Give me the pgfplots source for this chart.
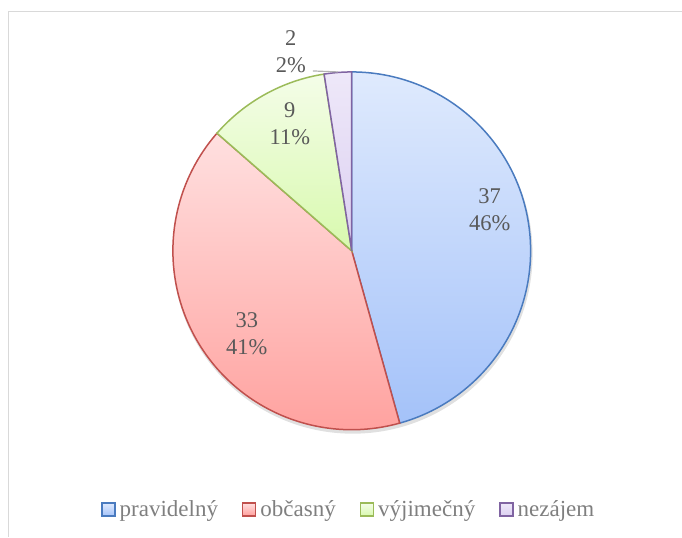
\documentclass[border=0pt]{standalone}
\usepackage{pgfplots}
\pgfplotsset{compat=1.18}
\usepackage{pgfplotstable}
\usepackage{fontspec}
\setmainfont{Liberation Serif}
\definecolor{lbl}{HTML}{595959}
\definecolor{leg}{HTML}{7F7F7F}
\definecolor{frm}{HTML}{D9D9D9}
\definecolor{bE}{HTML}{4A7BBF}\definecolor{bT}{HTML}{DFEAFD}\definecolor{bB}{HTML}{A4C2F9}
\definecolor{rE}{HTML}{C0504D}\definecolor{rT}{HTML}{FFE0E0}\definecolor{rB}{HTML}{FF9E9B}
\definecolor{gE}{HTML}{9BBB59}\definecolor{gT}{HTML}{F4FDE8}\definecolor{gB}{HTML}{D8F9AE}
\definecolor{pE}{HTML}{8064A2}\definecolor{pT}{HTML}{EEE8F9}\definecolor{pB}{HTML}{DCD0F1}
\pgfplotstableread{
label value
pravidelny 37
obcasny 33
vyjimecny 9
nezajem 2
}\piedata
\begin{document}
\begin{tikzpicture}
\pgfplotstablegetelem{0}{value}\of\piedata \let\va\pgfplotsretval
\pgfplotstablegetelem{1}{value}\of\piedata \let\vb\pgfplotsretval
\pgfplotstablegetelem{2}{value}\of\piedata \let\vc\pgfplotsretval
\pgfplotstablegetelem{3}{value}\of\piedata \let\vd\pgfplotsretval
\pgfmathsetmacro\total{\va+\vb+\vc+\vd}
\pgfmathsetmacro\aA{90}
\pgfmathsetmacro\aB{90-360*\va/\total}
\pgfmathsetmacro\aC{\aB-360*\vb/\total}
\pgfmathsetmacro\aD{\aC-360*\vc/\total}
\pgfmathsetmacro\aE{\aD-360*\vd/\total}
\begin{axis}[
  scale only axis, width=682pt, height=537pt,
  xmin=0, xmax=682, ymin=0, ymax=537,
  hide axis, clip=false,
  legend columns=4,
  legend style={at={(axis cs:348,27)}, anchor=center, draw=none, fill=none,
    font=\fontsize{23}{27}\selectfont\color{leg},
    nodes={inner xsep=0pt, inner ysep=1pt},
    /tikz/every odd column/.append style={column sep=4pt},
    /tikz/every even column/.append style={column sep=24pt},
    inner sep=0pt},
  legend image code/.code={\path[#1] (0pt,-6.5pt) rectangle (13pt,6.5pt);},
]
\path (axis cs:0,0) rectangle (axis cs:682,537);
\addlegendimage{top color=bT, bottom color=bB, draw=bE, line width=1.5pt}
\addlegendentry{pravidelný}
\addlegendimage{top color=rT, bottom color=rB, draw=rE, line width=1.5pt}
\addlegendentry{občasný}
\addlegendimage{top color=gT, bottom color=gB, draw=gE, line width=1.5pt}
\addlegendentry{výjimečný}
\addlegendimage{top color=pT, bottom color=pB, draw=pE, line width=1.5pt}
\addlegendentry{nezájem}
% frame
\draw[frm, line width=1pt] (axis cs:9,0) -- (axis cs:9,525) -- (axis cs:682,525);
% shadow
\fill[black, opacity=0.12] (axis cs:353,283) circle[radius=180pt];
% slices
\path[top color=bT, bottom color=bB, draw=bE, line width=1.5pt]
  (axis cs:352,286) -- ([shift={(\aA:179pt)}]axis cs:352,286) arc[start angle=\aA, end angle=\aB, radius=179pt] -- cycle;
\path[top color=rT, bottom color=rB, draw=rE, line width=1.5pt]
  (axis cs:352,286) -- ([shift={(\aB:179pt)}]axis cs:352,286) arc[start angle=\aB, end angle=\aC, radius=179pt] -- cycle;
\path[top color=gT, bottom color=gB, draw=gE, line width=1.5pt]
  (axis cs:352,286) -- ([shift={(\aC:179pt)}]axis cs:352,286) arc[start angle=\aC, end angle=\aD, radius=179pt] -- cycle;
\path[top color=pT, bottom color=pB, draw=pE, line width=1.5pt]
  (axis cs:352,286) -- ([shift={(\aD:179pt)}]axis cs:352,286) arc[start angle=\aD, end angle=\aE, radius=179pt] -- cycle;
% labels
\tikzset{pl/.style={align=center, text=lbl, font=\fontsize{22.5}{27}\selectfont, inner sep=0pt}}
\node[pl] at (axis cs:490,327) {37\\46\%};
\node[pl] at (axis cs:247,203) {33\\41\%};
\node[pl] at (axis cs:290,413) {9\\11\%};
\node[pl] at (axis cs:291,485) {2\\2\%};
\draw[gray!60, line width=1.2pt] (axis cs:313,466) -- (axis cs:338,465);
\end{axis}
\end{tikzpicture}
\end{document}
